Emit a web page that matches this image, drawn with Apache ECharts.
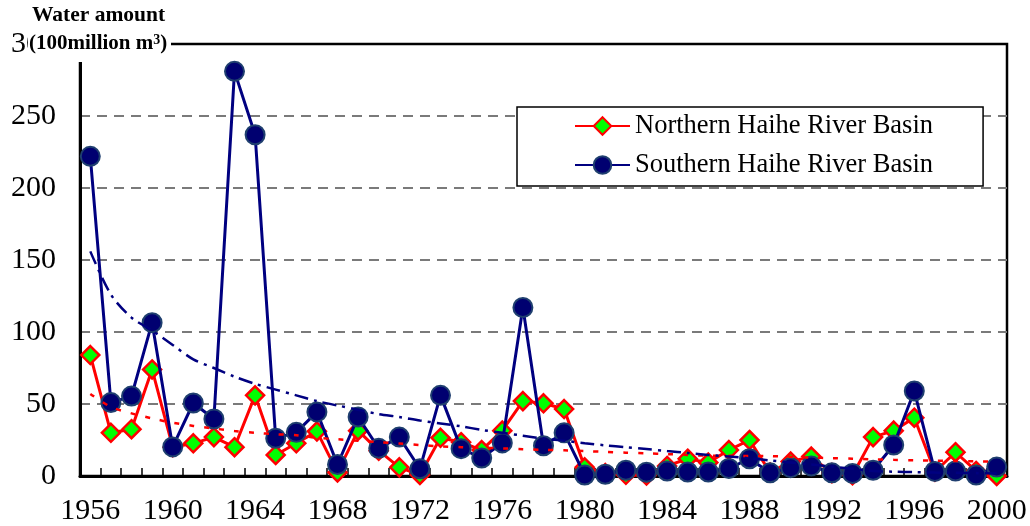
<!DOCTYPE html>
<html>
<head>
<meta charset="utf-8">
<script src="https://cdn.jsdelivr.net/npm/echarts@6/dist/echarts.min.js"></script>
<style>html,body{margin:0;padding:0;background:#fff;}#c{width:1030px;height:526px;}</style>
</head>
<body>
<div id="c"></div>
<script>
const years = [];
for (let y = 1956; y <= 2000; y++) years.push(String(y));

const northern = [84, 30, 32.5, 74, 20, 22.7, 27, 20, 56, 14.6,
  22.7, 31, 2.5, 31.5, 17.6, 6, 0.7, 26.5, 23.5, 18,
  31.5, 52, 50.5, 46.5, 6, 2, 0.8, 0.3, 7, 12,
  9.3, 18, 25, 2.5, 10, 13.5, 2, 0.5, 27, 31.5,
  40.5, 3, 16.5, 3.5, 0];

const southern = [222, 51, 55.5, 106.5, 20.2, 50.7, 39.6, 281, 237, 26.2,
  30.3, 44.5, 8, 41, 19.2, 27, 5, 56, 19, 12.5,
  23, 117, 21, 30, 0.7, 1.2, 4, 2.6, 3.5, 2.8,
  2.8, 5.2, 12, 2.2, 5.8, 7, 2.2, 1.8, 4, 21.5,
  59, 3.2, 3.5, 0.7, 6.2];

const southernTrend = [156, 126, 110, 101, 91, 81, 75, 69, 64, 60,
  56, 52, 49, 46, 43, 41, 38.5, 36.5, 34.5, 32,
  30, 28, 26, 24.5, 22.7, 21.3, 20, 18.7, 17.3, 16,
  14.6, 13.5, 12.3, 10.8, 9.4, 8, 6.5, 5, 3.5, 3,
  2.7, 2.4, 2.2, 2, 1.8];

const northernTrend = [57, 48, 43.5, 40, 37, 34.8, 33, 31.2, 30, 29,
  28.3, 26.5, 25.5, 24.5, 23.5, 22.6, 21.5, 20.6, 20, 19.6,
  19.2, 18.6, 18.2, 17.8, 17.3, 16.8, 16.2, 15.7, 15.2, 14.6,
  14.1, 14, 13.9, 13.8, 13.3, 12.8, 12.4, 12, 11.6, 11.2,
  10.9, 10.6, 10.4, 10.2, 10];

const yTicks = [0, 50, 100, 150, 200, 250, 300];

const FONT = '"Liberation Serif", "Times New Roman", serif';

const chart = echarts.init(document.getElementById('c'));
chart.setOption({
  animation: false,
  backgroundColor: '#fff',
  grid: {
    left: 80, right: 23, top: 44, bottom: 50,
    show: true, borderColor: '#000', borderWidth: 2.5, backgroundColor: 'transparent'
  },
  legend: {
    data: ['Northern Haihe River Basin', 'Southern Haihe River Basin'],
    orient: 'vertical',
    left: 517, top: 107,
    padding: [4, 50, 6, 57],
    itemWidth: 55, itemHeight: 22, itemGap: 9,
    borderColor: '#000', borderWidth: 1.5,
    backgroundColor: '#fff',
    textStyle: { fontFamily: FONT, fontSize: 26.5, color: '#000', lineHeight: 30 }
  },
  xAxis: {
    type: 'category',
    data: years,
    boundaryGap: true,
    axisLine: { show: true, lineStyle: { color: '#000', width: 3 } },
    axisTick: { show: true, inside: true, length: 8, interval: 0, lineStyle: { color: '#000', width: 1.5 } },
    axisLabel: { interval: 3, fontFamily: FONT, fontSize: 30, color: '#000', margin: 20 },
    splitLine: { show: false }
  },
  yAxis: {
    type: 'value',
    min: yTicks[0], max: yTicks[yTicks.length - 1], interval: 50,
    axisLine: { show: true, lineStyle: { color: '#000', width: 3 } },
    axisTick: { show: false },
    axisLabel: { fontFamily: FONT, fontSize: 30, color: '#000', margin: 24 },
    splitLine: { show: true, lineStyle: { type: [10, 7], width: 2,
      color: ['rgba(0,0,0,0)', '#7a7a7a', '#7a7a7a', '#7a7a7a', '#7a7a7a', '#7a7a7a', 'rgba(0,0,0,0)'] } }
  },
  graphic: [
    { type: 'rect', left: 28, top: 30, shape: { width: 143, height: 32 }, style: { fill: '#fff' }, z: 100 },
    { type: 'text', left: 32, top: 4, z: 101,
      style: { text: 'Water amount', font: 'bold 21.5px ' + FONT, fill: '#000' } },
    { type: 'text', left: 29, top: 33, z: 101,
      style: { text: '{a|(100million m}{s|3}{a|)}', fill: '#000',
        rich: {
          a: { fontFamily: FONT, fontWeight: 'bold', fontSize: 21, fill: '#000' },
          s: { fontFamily: FONT, fontWeight: 'bold', fontSize: 14, fill: '#000', verticalAlign: 'top', padding: [0, 0, 8, 0] }
        } } }
  ],
  series: [
    {
      name: 'Northern Haihe River Basin', type: 'line', data: northern, z: 3,
      symbol: 'diamond', symbolSize: 18, showAllSymbol: true, showSymbol: true,
      lineStyle: { color: '#FF0000', width: 3 },
      itemStyle: { color: '#00FF00', borderColor: '#FF0000', borderWidth: 2.5 }
    },
    {
      name: 'Southern Haihe River Basin', type: 'line', data: southern, z: 4,
      symbol: 'circle', symbolSize: 19, showAllSymbol: true, showSymbol: true,
      lineStyle: { color: '#000080', width: 3 },
      itemStyle: { color: '#000070', borderColor: '#1F3F6F', borderWidth: 2 }
    },
    {
      name: 'Northern trend', type: 'line', data: northernTrend, z: 5,
      symbol: 'none', smooth: 0.3, silent: true,
      lineStyle: { color: '#FF0000', width: 2.5, type: [5, 10] }
    },
    {
      name: 'Southern trend', type: 'line', data: southernTrend, z: 5,
      symbol: 'none', smooth: 0.3, silent: true,
      lineStyle: { color: '#000080', width: 2.5, type: [14, 6, 3, 6] }
    }
  ]
});
</script>
</body>
</html>
